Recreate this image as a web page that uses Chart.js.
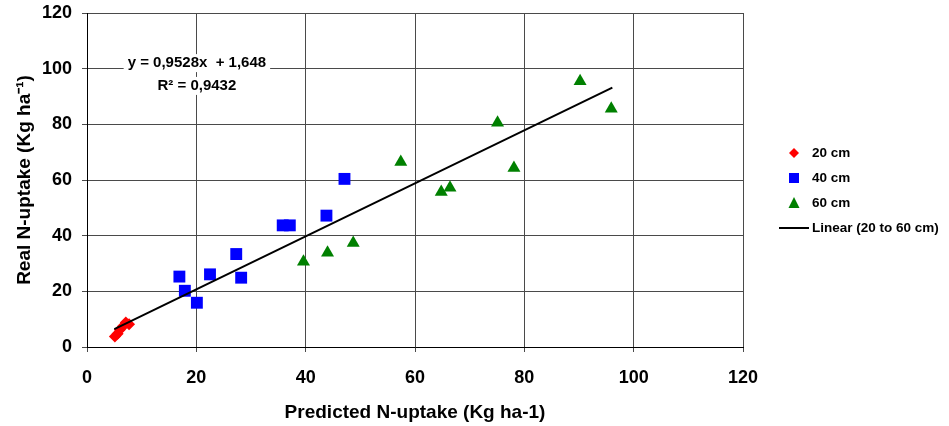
<!DOCTYPE html>
<html>
<head>
<meta charset="utf-8">
<script src="https://cdn.jsdelivr.net/npm/chart.js@4/dist/chart.umd.min.js"></script>
<style>
html,body{margin:0;padding:0;background:#fff;}
#wrap{width:949px;height:426px;}
</style>
</head>
<body>
<div id="wrap"><canvas id="c" width="949" height="426"></canvas></div>
<script>
// ---- Data ----
const predicted20 = [5.1, 5.6, 6.0, 6.6, 7.1, 7.7];
const real20      = [3.8, 4.8, 6.2, 7.5, 8.8, 8.2];

const predicted40 = [16.9, 17.9, 20.1, 22.5, 27.3, 28.2, 35.8, 37.1, 43.8, 47.1];
const real40      = [25.3, 20.2, 15.9, 26.1, 33.4, 24.9, 43.7, 43.7, 47.2, 60.4];

const predicted60 = [39.6, 44.0, 48.7, 57.4, 64.8, 66.4, 75.1, 78.1, 90.2, 95.9];
const real60      = [30.6, 33.9, 37.4, 66.5, 55.7, 57.2, 80.6, 64.3, 95.5, 85.6];

const trendSlope = 0.9528;
const trendIntercept = 1.648;
const trendX = [5.0, 96.1];

const seriesLabels = ['20 cm', '40 cm', '60 cm', 'Linear (20 to 60 cm)'];
const equationLines = ['y = 0,9528x  + 1,648', 'R² = 0,9432'];
const equationPos = {x: 20.1, y: [102, 93.8]};
const xTicks = [0, 20, 40, 60, 80, 100, 120];
const yTicks = [0, 20, 40, 60, 80, 100, 120];
const xTitle = 'Predicted N-uptake (Kg ha-1)';
const yTitle = 'Real N-uptake (Kg ha⁻¹)';

const toPts = (xs, ys) => xs.map((x, i) => ({x: x, y: ys[i]}));
const trendPts = trendX.map(x => ({x: x, y: trendSlope * x + trendIntercept}));

const FONT = "'Liberation Sans', Arial, sans-serif";
const GRID = '#4a4a4a';

const equationPlugin = {
  id: 'equation',
  afterDatasetsDraw(chart) {
    const ctx = chart.ctx;
    const xs = chart.scales.x, ys = chart.scales.y;
    ctx.save();
    ctx.font = 'bold 15px ' + FONT;
    ctx.textAlign = 'center';
    ctx.textBaseline = 'middle';
    equationLines.forEach((t, i) => {
      const px = xs.getPixelForValue(equationPos.x);
      const py = ys.getPixelForValue(equationPos.y[i]);
      const w = ctx.measureText(t).width;
      ctx.fillStyle = '#fff';
      ctx.fillRect(px - w / 2 - 4, py - 9, w + 8, 18);
      ctx.fillStyle = '#000';
      ctx.fillText(t, px, py);
    });
    ctx.restore();
  }
};

const legendPlugin = {
  id: 'customLegend',
  afterDraw(chart) {
    const ctx = chart.ctx;
    const ca = chart.chartArea;
    const mx = ca.right + 51, tx = ca.right + 69;
    const y0 = 153, dy = 25;
    ctx.save();
    ctx.font = 'bold 13.5px ' + FONT;
    ctx.textBaseline = 'middle';
    ctx.textAlign = 'left';
    // diamond
    let y = y0;
    ctx.fillStyle = '#ff0000';
    ctx.beginPath();
    ctx.moveTo(mx, y - 5); ctx.lineTo(mx + 5, y); ctx.lineTo(mx, y + 5); ctx.lineTo(mx - 5, y);
    ctx.closePath(); ctx.fill();
    ctx.fillStyle = '#000'; ctx.fillText(seriesLabels[0], tx, y);
    // square
    y = y0 + dy;
    ctx.fillStyle = '#0000ff';
    ctx.fillRect(mx - 5, y - 5, 10, 10);
    ctx.fillStyle = '#000'; ctx.fillText(seriesLabels[1], tx, y);
    // triangle
    y = y0 + 2 * dy;
    ctx.fillStyle = '#008000';
    ctx.beginPath();
    ctx.moveTo(mx, y - 6); ctx.lineTo(mx + 5.5, y + 5); ctx.lineTo(mx - 5.5, y + 5);
    ctx.closePath(); ctx.fill();
    ctx.fillStyle = '#000'; ctx.fillText(seriesLabels[2], tx, y);
    // line
    y = y0 + 3 * dy;
    ctx.strokeStyle = '#000'; ctx.lineWidth = 2;
    ctx.beginPath(); ctx.moveTo(ca.right + 36, y); ctx.lineTo(ca.right + 66, y); ctx.stroke();
    ctx.fillStyle = '#000'; ctx.fillText(seriesLabels[3], tx, y);
    ctx.restore();
  }
};

new Chart(document.getElementById('c'), {
  type: 'scatter',
  data: {
    datasets: [
      {
        label: seriesLabels[3],
        data: trendPts,
        showLine: true,
        borderColor: '#000',
        borderWidth: 2,
        pointRadius: 0,
        fill: false
      },
      {
        label: seriesLabels[0],
        data: toPts(predicted20, real20),
        pointStyle: 'rectRot',
        pointRadius: 6,
        backgroundColor: '#ff0000',
        borderColor: '#ff0000',
        borderWidth: 0
      },
      {
        label: seriesLabels[1],
        data: toPts(predicted40, real40),
        pointStyle: 'rect',
        pointRadius: 8.4,
        backgroundColor: '#0000ff',
        borderColor: '#0000ff',
        borderWidth: 0
      },
      {
        label: seriesLabels[2],
        data: toPts(predicted60, real60),
        pointStyle: 'triangle',
        pointRadius: 7.5,
        backgroundColor: '#008000',
        borderColor: '#008000',
        borderWidth: 0
      }
    ]
  },
  options: {
    responsive: false,
    animation: false,
    devicePixelRatio: 1,
    layout: {padding: {left: 0, top: 13, right: 206, bottom: 0}},
    plugins: {
      legend: {display: false},
      tooltip: {enabled: false}
    },
    scales: {
      x: {
        type: 'linear',
        min: 0, max: 120,
        afterBuildTicks(s) { s.ticks = xTicks.map(v => ({value: v})); },
        afterFit(s) { s.height = 79; s.paddingLeft = 0; s.paddingRight = 0; },
        grid: {color: GRID, lineWidth: 1, tickLength: 5, drawTicks: true},
        border: {color: '#000', width: 1},
        ticks: {color: '#000', font: {family: FONT, size: 18, weight: 'bold'}, padding: 15, maxRotation: 0},
        title: {display: true, text: xTitle, color: '#000', font: {family: FONT, size: 19, weight: 'bold'}, padding: {top: 0, bottom: 2}}
      },
      y: {
        type: 'linear',
        min: 0, max: 120,
        afterBuildTicks(s) { s.ticks = yTicks.map(v => ({value: v})); },
        afterFit(s) { s.width = 87; s.paddingTop = 0; s.paddingBottom = 0; },
        grid: {color: GRID, lineWidth: 1, tickLength: 5, drawTicks: true},
        border: {color: '#000', width: 1},
        ticks: {color: '#000', font: {family: FONT, size: 18, weight: 'bold'}, padding: 10},
        title: {display: true, text: yTitle, color: '#000', font: {family: FONT, size: 19, weight: 'bold'}, padding: {top: 13, bottom: 0}}
      }
    }
  },
  plugins: [equationPlugin, legendPlugin]
});
</script>
</body>
</html>
